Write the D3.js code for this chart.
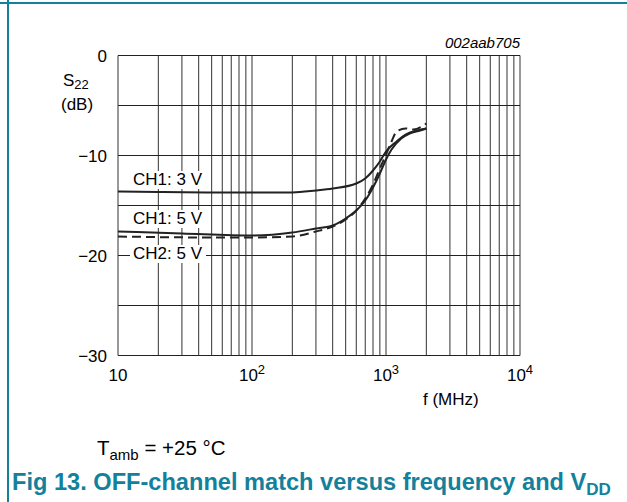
<!DOCTYPE html>
<html>
<head>
<meta charset="utf-8">
<script src="https://cdn.jsdelivr.net/npm/d3@7"></script>
<style>
  body { margin: 0; background: #fff; }
  svg { font-family: "Liberation Sans", Arial, sans-serif; }
</style>
</head>
<body>
<script>
const w = 627,
  h = 502;

// frequency (MHz) and S22 (dB)
const ch1_3v = [[10, -13.6], [20, -13.65], [50, -13.7], [100, -13.7], [200, -13.7], [300, -13.5],
  [400, -13.3], [600, -12.8], [700, -12.3], [800, -11.5], [900, -10.6], [1000, -9.6],
  [1200, -8.6], [1400, -7.9], [1700, -7.5], [2000, -7.3]];
const ch1_5v = [[10, -17.6], [30, -17.8], [100, -18.0], [200, -17.7], [300, -17.3], [400, -17.0],
  [500, -16.3], [600, -15.5], [700, -14.5], [800, -13.2], [900, -11.8], [1000, -10.4],
  [1100, -9.4], [1300, -8.3], [1500, -7.8], [1800, -7.5], [2000, -7.3]];
const ch2_5v = [[10, -18.1], [50, -18.2], [100, -18.2], [200, -18.1], [300, -17.6], [400, -17.1],
  [500, -16.4], [600, -15.5], [700, -14.3], [800, -12.9], [900, -11.3], [1000, -9.9],
  [1100, -8.6], [1200, -7.6], [1400, -7.3], [1600, -7.4], [2000, -6.8]];

const yTicks = [0, -10, -20, -30];
const yGrid = [0, -5, -10, -15, -20, -25, -30];
const xTicks = [10, 100, 1000, 10000];
const xTickExp = ['', '2', '3', '4'];

const teal = '#13809c';

const x = d3.scaleLog().domain([10, 10000]).range([118, 520]);
const y = d3.scaleLinear().domain([-30, 0]).range([355.5, 55.5]);

const svg = d3.select('body')
  .append('svg')
  .attr('width', w)
  .attr('height', h);

// page frame
svg.append('line').attr('x1', 0).attr('x2', w).attr('y1', 3).attr('y2', 3)
  .attr('stroke', teal).attr('stroke-width', 2);
svg.append('line').attr('x1', 8).attr('x2', 8).attr('y1', 0).attr('y2', h)
  .attr('stroke', teal).attr('stroke-width', 2);

// grid
const xGrid = [];
for (let d = 10; d < 10000; d *= 10) {
  for (let k = 1; k <= 9; k++) xGrid.push(d * k);
}
xGrid.push(10000);

svg.append('g')
  .selectAll('line')
  .data(xGrid)
  .enter()
  .append('line')
  .attr('x1', d => x(d))
  .attr('x2', d => x(d))
  .attr('y1', y(0))
  .attr('y2', y(-30))
  .attr('stroke', '#333')
  .attr('stroke-width', 1);

svg.append('g')
  .selectAll('line')
  .data(yGrid)
  .enter()
  .append('line')
  .attr('x1', x(10))
  .attr('x2', x(10000))
  .attr('y1', d => y(d))
  .attr('y2', d => y(d))
  .attr('stroke', '#222')
  .attr('stroke-width', 1);

// y tick labels
svg.append('g')
  .selectAll('text')
  .data(yTicks)
  .enter()
  .append('text')
  .attr('x', 107)
  .attr('y', d => y(d) + 6)
  .attr('text-anchor', 'end')
  .attr('font-size', 17)
  .text(d => d === 0 ? '0' : '\u2212' + Math.abs(d));

// x tick labels
const xt = svg.append('g')
  .selectAll('text')
  .data(xTicks)
  .enter()
  .append('text')
  .attr('x', d => x(d))
  .attr('y', 381)
  .attr('text-anchor', 'middle')
  .attr('font-size', 17);
xt.append('tspan').text('10');
xt.append('tspan')
  .attr('dy', -7)
  .attr('font-size', 13)
  .text((d, i) => xTickExp[i]);

// axis titles
const s22 = svg.append('text').attr('x', 63).attr('y', 86).attr('font-size', 17);
s22.append('tspan').text('S');
s22.append('tspan').attr('dy', 3).attr('font-size', 13).text('22');
svg.append('text').attr('x', 61).attr('y', 110).attr('font-size', 17).text('(dB)');
svg.append('text').attr('x', 423).attr('y', 405).attr('font-size', 17).text('f (MHz)');

svg.append('text').attr('x', 520).attr('y', 48)
  .attr('text-anchor', 'end')
  .attr('font-size', 15)
  .attr('font-style', 'italic')
  .text('002aab705');

// curves
const line = d3.line()
  .x(d => x(d[0]))
  .y(d => y(d[1]))
  .curve(d3.curveMonotoneX);

const series = [
  { data: ch1_3v, dash: null },
  { data: ch1_5v, dash: null },
  { data: ch2_5v, dash: '9,5' }
];

svg.append('g')
  .selectAll('path')
  .data(series)
  .enter()
  .append('path')
  .attr('d', d => line(d.data))
  .attr('fill', 'none')
  .attr('stroke', '#222')
  .attr('stroke-width', 2)
  .attr('stroke-dasharray', d => d.dash);

// curve labels with white boxes
const labels = [
  { text: 'CH1: 3 V', y: 185 },
  { text: 'CH1: 5 V', y: 224 },
  { text: 'CH2: 5 V', y: 259 }
];
const lg = svg.append('g')
  .selectAll('g')
  .data(labels)
  .enter()
  .append('g');
lg.append('rect')
  .attr('x', 130)
  .attr('y', d => d.y - 14)
  .attr('width', 76)
  .attr('height', 18)
  .attr('fill', '#fff');
lg.append('text')
  .attr('x', 133)
  .attr('y', d => d.y)
  .attr('font-size', 17)
  .text(d => d.text);

// conditions and caption
const tamb = svg.append('text').attr('x', 97).attr('y', 455).attr('font-size', 20.5);
tamb.append('tspan').text('T');
tamb.append('tspan').attr('dy', 5).attr('font-size', 15).text('amb');
tamb.append('tspan').attr('dy', -5).text(' = +25 \u00B0C');

const cap = svg.append('text').attr('x', 12).attr('y', 490)
  .attr('font-size', 23.6)
  .attr('font-weight', 'bold')
  .attr('fill', teal);
cap.append('tspan').text('Fig 13.  OFF-channel match versus frequency and V');
cap.append('tspan').attr('dy', 5).attr('font-size', 17).text('DD');
</script>
</body>
</html>
